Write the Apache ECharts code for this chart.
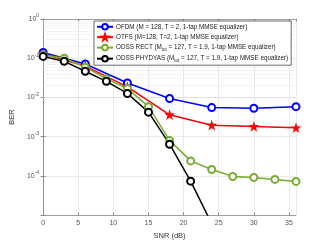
<!DOCTYPE html>
<html>
<head>
<meta charset="utf-8">
<script src="https://cdn.jsdelivr.net/npm/echarts@6/dist/echarts.min.js"></script>
<style>html,body{margin:0;padding:0;background:#fff}#c{width:327px;height:245px}</style>
</head>
<body>
<div id="c"></div>
<script>
const snrOFDM = [0, 6, 12, 18, 24, 30, 36];
const berOFDM = [0.14, 0.071, 0.0233, 0.0094, 0.0055, 0.0053, 0.0058];
const snrOTFS = [0, 6, 12, 18, 24, 30, 36];
const berOTFS = [0.127, 0.063, 0.0185, 0.0036, 0.00194, 0.0018, 0.00167];
const snrRect = [0, 3, 6, 9, 12, 15, 18, 21, 24, 27, 30, 33, 36];
const berRect = [0.12, 0.1, 0.059, 0.030, 0.0168, 0.0058, 0.0008, 0.00024, 0.000145, 0.000096, 0.000091, 0.000081, 0.000072];
const snrPhy = [0, 3, 6, 9, 12, 15, 18, 21, 24];
const berPhy = [0.111, 0.083, 0.0466, 0.0257, 0.0126, 0.0042, 0.00064, 0.000073, 0.000006];
const seriesNames = ['OFDM', 'OTFS', 'RECT', 'PHYDYAS'];
const legendLabels = {
  'OFDM': 'OFDM (M = 128, T = 2, 1-tap MMSE equalizer)',
  'OTFS': 'OTFS (M=128, T=2, 1-tap MMSE equalizer)',
  'RECT': 'ODSS RECT (M{sub|tot} = 127, T = 1.9, 1-tap MMSE equalizer)',
  'PHYDYAS': 'ODSS PHYDYAS (M{sub|tot} = 127, T = 1.9, 1-tap MMSE equalizer)'
};
const minorGridVals = [];
for (let k = -5; k < 0; k++) for (let m = 2; m <= 9; m++) minorGridVals.push(+(m * Math.pow(10, k)).toPrecision(3));

const zip = (xs, ys) => xs.map((x, i) => [x, ys[i]]);
const star = 'path://M50,0 L61.8,36.2 L100,36.2 L69.1,58.8 L80.9,95.1 L50,72.6 L19.1,95.1 L30.9,58.8 L0,36.2 L38.2,36.2 Z';
const font = 'Liberation Sans';
const axisCol = '#8a8a8a';
const labelCol = '#555';
const chart = echarts.init(document.getElementById('c'), null, {renderer: 'canvas'});
const mkLine = (name, xs, ys, color, symbol, size, extra) => Object.assign({
  name, type: 'line', data: zip(xs, ys), xAxisIndex: 0, yAxisIndex: 0,
  symbol, symbolSize: size, showAllSymbol: true, clip: true,
  lineStyle: {color, width: 1.5, type: 'solid'},
  itemStyle: {color, borderColor: color, borderWidth: 1.3},
  emphasis: {disabled: true}, z: 5
}, extra || {});
chart.setOption({
  animation: false,
  backgroundColor: '#fff',
  grid: {left: 42, right: 31, top: 19, bottom: 27, show: false},
  legend: {
    orient: 'vertical', left: 94, top: 21,
    itemWidth: 16, itemHeight: 7, itemGap: 2.8,
    padding: [2, 3, 2, 2],
    backgroundColor: '#fff', borderColor: '#444', borderWidth: 0.8,
    data: seriesNames,
    formatter: n => legendLabels[n],
    textStyle: {fontFamily: font, fontSize: 6.3, color: '#222', padding: [0, 0, 0, -2],
      rich: {sub: {fontSize: 4.5, fontFamily: font, color: '#222', padding: [4, 0, 0, 0]}}}
  },
  xAxis: [{
    type: 'value', min: 0, max: 36, interval: 5, position: 'bottom',
    name: 'SNR (dB)', nameLocation: 'middle', nameGap: 17,
    nameTextStyle: {fontFamily: font, fontSize: 7.5, color: '#333'},
    axisLine: {show: true, lineStyle: {color: axisCol, width: 0.8}},
    axisTick: {show: true, inside: true, length: 2.5, lineStyle: {color: axisCol}},
    axisLabel: {fontFamily: font, fontSize: 7, color: labelCol, margin: 5, showMaxLabel: false},
    splitLine: {show: true, lineStyle: {color: '#e2e2e2', type: 'solid', width: 0.7}}
  }, {
    type: 'value', min: 0, max: 36, interval: 5, position: 'top',
    axisLine: {show: true, lineStyle: {color: axisCol, width: 0.8}},
    axisTick: {show: true, inside: true, length: 2.5, lineStyle: {color: axisCol}},
    axisLabel: {show: false}, splitLine: {show: false}
  }],
  yAxis: [{
    type: 'log', logBase: 10, min: 1e-5, max: 1, position: 'left',
    name: 'BER', nameLocation: 'middle', nameGap: 22, nameRotate: 90,
    nameTextStyle: {fontFamily: font, fontSize: 7.5, color: '#333'},
    axisLine: {show: true, lineStyle: {color: axisCol, width: 0.8}},
    axisTick: {show: true, inside: true, length: 2.5, lineStyle: {color: axisCol}},
    axisLabel: {
      fontFamily: font, fontSize: 7, color: labelCol, margin: 4,
      formatter: v => { const k = Math.round(Math.log10(v)); return k === -5 ? '' : '{b|10}{s|' + k + '}'; },
      rich: {b: {fontFamily: font, fontSize: 7, color: labelCol}, s: {fontFamily: font, fontSize: 5, color: labelCol, padding: [0, 0, 6, 0]}}
    },
    splitLine: {show: true, lineStyle: {color: '#e2e2e2', type: 'solid', width: 0.7}}
  }, {
    type: 'log', logBase: 10, min: 1e-5, max: 1, position: 'right',
    axisLine: {show: true, lineStyle: {color: axisCol, width: 0.8}},
    axisTick: {show: true, inside: true, length: 2.5, lineStyle: {color: axisCol}},
    axisLabel: {show: false}, splitLine: {show: false}
  }],
  series: [
    mkLine('OFDM', snrOFDM, berOFDM, '#0000ff', 'emptyCircle', 7, {
      markLine: {silent: true, symbol: ['none', 'none'], label: {show: false}, animation: false,
        lineStyle: {color: '#dcdcdc', type: [1, 1], width: 0.7}, emphasis: {disabled: true},
        data: minorGridVals.map(v => ({yAxis: v})), z: 1}
    }),
    mkLine('OTFS', snrOTFS, berOTFS, '#ff0000', star, 7),
    mkLine('RECT', snrRect, berRect, '#77ac30', 'emptyCircle', 7),
    mkLine('PHYDYAS', snrPhy, berPhy, '#000000', 'emptyCircle', 7)
  ]
});
</script>
</body>
</html>
